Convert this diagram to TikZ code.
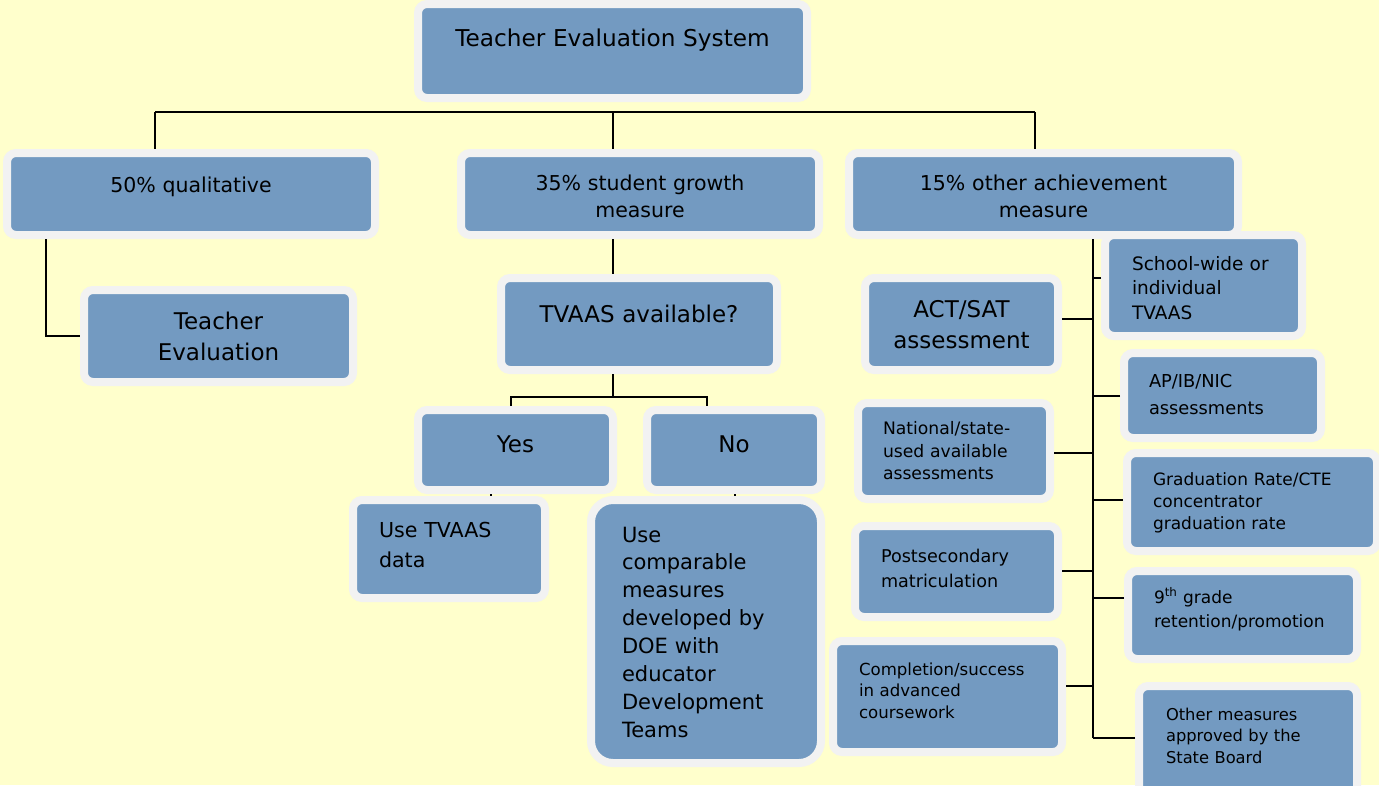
\documentclass[tikz,border=0pt]{standalone}
\usepackage{fontspec}
\setmainfont{DejaVu Sans}
\usepackage{tikz}
\usepackage{xcolor}
\definecolor{pagebg}{RGB}{255,255,204}
\definecolor{boxblue}{RGB}{115,154,193}
\definecolor{edgegray}{RGB}{242,242,242}

\begin{document}
\begin{tikzpicture}[
    x=1pt, y=-1pt,
    box/.style={rectangle, draw=edgegray, line width=8pt, fill=boxblue,
      rounded corners=9pt, inner sep=0pt, text=black},
    cbox/.style={box, align=center},
    lbox/.style={box, align=left},
    lift/.style={text height=0pt, text depth=#1},
    conn/.style={line width=2pt, black},
  ]
    % Page
    \fill[pagebg] (0,0) rectangle (1379,785);
    \useasboundingbox (0,0) rectangle (1379,785);

    % Top level
    \node[cbox, minimum width=389pt, minimum height=94pt, text width=380pt, lift=10pt,
      font=\fontsize{23.2}{30}\selectfont] (sys) at (612.5,51) {Teacher Evaluation System};

    % Second level
    \node[cbox, minimum width=368pt, minimum height=82pt, text width=340pt, lift=4pt,
      font=\fontsize{20.5}{27}\selectfont] (qual) at (191,194) {50\% qualitative};
    \node[cbox, minimum width=358pt, minimum height=82pt, text width=340pt, lift=8pt,
      font=\fontsize{20.5}{27}\selectfont] (growth) at (640,194) {35\% student growth\\measure};
    \node[cbox, minimum width=389pt, minimum height=82pt, text width=370pt, lift=8pt,
      font=\fontsize{20.5}{27}\selectfont] (other) at (1043.5,194) {15\% other achievement\\measure};

    % Qualitative branch
    \node[cbox, minimum width=269pt, minimum height=92pt, text width=250pt, lift=14pt,
      font=\fontsize{23}{31}\selectfont] (teval) at (218.5,336) {Teacher\\Evaluation};

    % Growth branch
    \node[cbox, minimum width=276pt, minimum height=92pt, text width=260pt, lift=4pt,
      font=\fontsize{23}{31}\selectfont] (tvaas) at (639,324) {TVAAS available?};
    \node[cbox, minimum width=195pt, minimum height=80pt, text width=180pt,
      text height=4pt, text depth=0pt,
      font=\fontsize{23}{31}\selectfont] (yes) at (515.5,450) {Yes};
    \node[cbox, minimum width=174pt, minimum height=80pt, text width=160pt,
      text height=4pt, text depth=0pt,
      font=\fontsize{23}{31}\selectfont] (no) at (734,450) {No};
    \node[lbox, minimum width=192pt, minimum height=98pt, text width=140pt, lift=24pt,
      font=\fontsize{20.6}{30}\selectfont] (usetv) at (449,549) {Use TVAAS\\data};
    \node[lbox, minimum width=230pt, minimum height=263pt, rounded corners=22pt,
      text width=168pt, lift=179pt,
      font=\fontsize{21}{27.9}\selectfont] (usecomp) at (706,631.5)
      {Use\\comparable\\measures\\developed by\\DOE with\\educator\\Development\\Teams};

    % Other achievement branch
    \node[lbox, minimum width=197pt, minimum height=101pt, text width=143pt, lift=31pt,
      font=\fontsize{18.5}{24.5}\selectfont] (school) at (1203.5,285.5) {School-wide or\\individual\\TVAAS};
    \node[cbox, minimum width=193pt, minimum height=92pt, text width=180pt, lift=14pt,
      font=\fontsize{23}{31}\selectfont] (act) at (961.5,324) {ACT/SAT\\assessment};
    \node[lbox, minimum width=197pt, minimum height=85pt, text width=147pt, lift=17pt,
      font=\fontsize{17.8}{27}\selectfont] (ap) at (1222.5,395.5) {AP/IB/NIC\\assessments};
    \node[lbox, minimum width=192pt, minimum height=96pt, text width=142pt, lift=33pt,
      font=\fontsize{17.2}{22.5}\selectfont] (natl) at (954,451) {National/state-\\used available\\assessments};
    \node[lbox, minimum width=250pt, minimum height=98pt, text width=198pt, lift=34pt,
      font=\fontsize{17}{22}\selectfont] (grad) at (1252,502) {Graduation Rate/CTE\\concentrator\\graduation rate};
    \node[lbox, minimum width=203pt, minimum height=91pt, text width=151pt, lift=19pt,
      font=\fontsize{17.6}{25}\selectfont] (post) at (956.5,571.5) {Postsecondary\\matriculation};
    \node[lbox, minimum width=229pt, minimum height=88pt, text width=177pt, lift=24pt,
      font=\fontsize{17}{24}\selectfont] (ninth) at (1242.5,615) {9\textsuperscript{th} grade\\retention/promotion};
    \node[lbox, minimum width=229pt, minimum height=111pt, text width=177pt, lift=43pt,
      font=\fontsize{16.6}{21.5}\selectfont] (compl) at (947.5,696.5) {Completion/success\\in advanced\\coursework};
    \node[lbox, minimum width=218pt, minimum height=130pt, text width=164pt, lift=62pt,
      font=\fontsize{16.3}{21.5}\selectfont] (othm) at (1248,751) {Other measures\\approved by the\\State Board};

    % Connectors
    \coordinate (busL) at (155,112);
    \coordinate (busM) at (613,112);
    \coordinate (busR) at (1035,112);
    \draw[conn] (busL) -- (busR);
    \draw[conn] (busL) -- (qual.north -| busL);
    \draw[conn] (busM) -- (growth.north -| busM);
    \draw[conn] (busR) -- (other.north -| busR);

    \coordinate (qualDrop) at (46,0);
    \draw[conn] (qual.south -| qualDrop) |- (teval.west);

    \draw[conn] (growth.south -| busM) -- (tvaas.north -| busM);
    \coordinate (ynL) at (511,397);
    \coordinate (ynR) at (707,397);
    \draw[conn] (tvaas.south -| busM) -- (busM |- ynL);
    \draw[conn] (yes.north -| ynL) -- (ynL) -- (ynR) -- (no.north -| ynR);
    \coordinate (yesTick) at (491,0);
    \coordinate (noTick) at (735,0);
    \draw[conn] (yes.south -| yesTick) -- (usetv.north -| yesTick);
    \draw[conn] (no.south -| noTick) -- (usecomp.north -| noTick);

    % Trunk of the right branch
    \coordinate (trk) at (1093,738);
    \draw[conn] (other.south -| trk) -- (trk);
    \foreach \n/\dy in {school/7.5, ap/-0.5, grad/2, ninth/17, othm/13} {
      \path ([yshift=\dy pt]\n.west) coordinate (br);
      \draw[conn] (br) -- (br -| trk);
    }
    \foreach \n/\dy in {act/5, natl/-2, post/0.5, compl/10.5} {
      \path ([yshift=\dy pt]\n.east) coordinate (br);
      \draw[conn] (br) -- (br -| trk);
    }
\end{tikzpicture}
\end{document}
